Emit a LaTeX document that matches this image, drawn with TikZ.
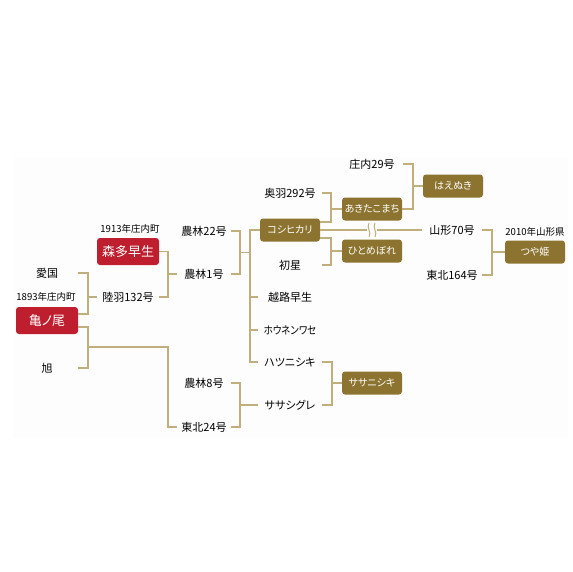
\documentclass[tikz,border=0pt]{standalone}
\usepackage{fontspec}
\setmainfont[Script=CJK,RawFeature=+palt]{Noto Sans CJK JP}
\usetikzlibrary{calc}
\definecolor{kred}{HTML}{BE1E2D}
\definecolor{kolive}{HTML}{8C7430}
\definecolor{kline}{HTML}{C0AE7C}
\definecolor{kbg}{HTML}{FDFDFD}

\begin{document}
\begin{tikzpicture}[x=1pt,y=-1pt,
    lbl/.style={font=\fontsize{11}{13}\selectfont,inner sep=0pt,minimum height=14},
    note/.style={font=\fontsize{9.5}{11}\selectfont,inner sep=0pt},
    redbox/.style={fill=kred,text=white,rounded corners=3,inner sep=0pt,
        minimum width=62,minimum height=27,font=\fontsize{13}{15}\selectfont},
    olvbox/.style={fill=kolive,text=white,rounded corners=3,inner sep=0pt,
        minimum width=60,minimum height=23,font=\fontsize{10}{12}\selectfont},
    link/.style={draw=kline,line width=1.2pt}]
                \useasboundingbox (0,0) rectangle (572,572);
                \fill[kbg] (13,157) rectangle (568,438);
                % first columns
                \node[lbl,minimum width=62] (aikoku) at (47,273) {愛国};
                \node[note] (n1893) at (46,297) {1893年庄内町};
                \node[redbox] (kamenoo) at (47,320.5) {亀ノ尾};
                \node[lbl,minimum width=62] (asahi) at (47,368) {旭};
                \node[note] (n1913) at (130,229) {1913年庄内町};
                \node[redbox] (morita) at (128,251.5) {森多早生};
                \node[lbl,minimum width=62] (rikuu) at (128,297) {陸羽132号};
                \node[lbl,minimum width=54] (norin22) at (204,231) {農林22号};
                \node[lbl,minimum width=54] (norin1) at (204,274) {農林1号};
                \node[lbl,minimum width=54] (norin8) at (204,383) {農林8号};
                \node[lbl,minimum width=54] (tohoku24) at (204,427) {東北24号};
                % koshihikari column
                \node[lbl,minimum width=63] (ou292) at (290,193) {奥羽292号};
                \node[olvbox] (koshi) at (290,230) {コシヒカリ};
                \node[lbl,minimum width=63] (hatsuboshi) at (290,265) {初星};
                \node[lbl,minimum width=63] (koshiji) at (290,297) {越路早生};
                \node[lbl,minimum width=63] (hounen) at (290,330) {\scalebox{0.86}[1]{ホウネンワセ}};
                \node[lbl,minimum width=63] (hatsu) at (290,362) {ハツニシキ};
                \node[lbl,minimum width=63] (sasashi) at (290,405) {ササシグレ};
                % right columns
                \node[lbl,minimum width=62] (shonai29) at (372,164) {庄内29号};
                \node[olvbox] (akita) at (372,209) {あきたこまち};
                \node[olvbox] (hitome) at (372,251) {ひとめぼれ};
                \node[olvbox] (sasanishi) at (372,383) {ササニシキ};
                \node[olvbox] (haenuki) at (453,186) {はえぬき};
                \node[lbl,minimum width=60] (yama70) at (452,230) {山形70号};
                \node[lbl,minimum width=60] (tohoku164) at (452,275) {東北164号};
                \node[note] (n2010) at (535,232) {2010年山形県};
                \node[olvbox] (tsuya) at (535,252) {つや姫};
                % bar positions
                \coordinate (b1) at (88,0);
                \coordinate (b3) at (168,0);
                \coordinate (b4) at (240,0);
                \coordinate (b5) at (250,0);
                \coordinate (b6) at (331,0);
                \coordinate (b8) at (413,0);
                \coordinate (b9) at (492,0);
                \coordinate (kameU) at ($(kamenoo.east)+(0,-6.5)$);
                \coordinate (kameD) at ($(kamenoo.east)+(0,6.5)$);
                \coordinate (koshiU) at ($(koshi.east)+(0,-8)$);
                \coordinate (koshiD) at ($(koshi.east)+(0,8)$);
                \coordinate (j2) at (168,347);
                \coordinate (j4) at (240,252.5);
                % brackets
                \draw[link] (aikoku.east) -| (b1 |- kameU) -- (kameU);
                \draw[link] (rikuu.west) -- (rikuu.west -| b1);
                \draw[link] (kameD) -| (b1 |- asahi.east) -- (asahi.east);
                \draw[link] (tohoku24.west) -| (j2) -- (j2 -| b1);
                \draw[link] (morita.east) -| (b3 |- rikuu.east) -- (rikuu.east);
                \draw[link] (norin1.west) -- (norin1.west -| b3);
                \draw[link] (norin22.east) -| (b4 |- norin1.east) -- (norin1.east);
                \draw[link] (j4) -- (j4 -| b5);
                \draw[link] (koshi.west) -| (b5 |- hatsu.west) -- (hatsu.west);
                \foreach \n in {koshiji,hounen}{
                    \draw[link] (\n.west) -- (\n.west -| b5);
                }
                \draw[link] (ou292.east) -| (b6 |- koshiU) -- (koshiU);
                \draw[link] (akita.west) -- (akita.west -| b6);
                \draw[link] (koshiD) -| (b6 |- hatsuboshi.east) -- (hatsuboshi.east);
                \draw[link] (hitome.west) -- (hitome.west -| b6);
                \draw[link] (shonai29.east) -| (b8 |- akita.east) -- (akita.east);
                \draw[link] (haenuki.west) -- (haenuki.west -| b8);
                \draw[link] (yama70.east) -| (b9 |- tohoku164.east) -- (tohoku164.east);
                \draw[link] (tsuya.west) -- (tsuya.west -| b9);
                \draw[link] (hatsu.east) -| ($(b6 |- sasashi.east)+(1,0)$) -- (sasashi.east);
                \draw[link] (sasanishi.west) -- ($(sasanishi.west -| b6)+(1,0)$);
                \draw[link] (norin8.east) -| (b4 |- tohoku24.east) -- (tohoku24.east);
                \draw[link] (sasashi.west) -- (sasashi.west -| b4);
                % koshihikari to yamagata 70 with break
                \coordinate (brkL) at (367,230);
                \coordinate (brkR) at (377,230);
                \draw[link] (koshi.east) -- (brkL);
                \draw[link] (brkR) -- (yama70.west);
                \draw[kline,line width=1pt] (369,223) .. controls (366,228) and (372,232) .. (369,237);
                \draw[kline,line width=1pt] (375,223) .. controls (372,228) and (378,232) .. (375,237);
            \end{tikzpicture}
\end{document}
